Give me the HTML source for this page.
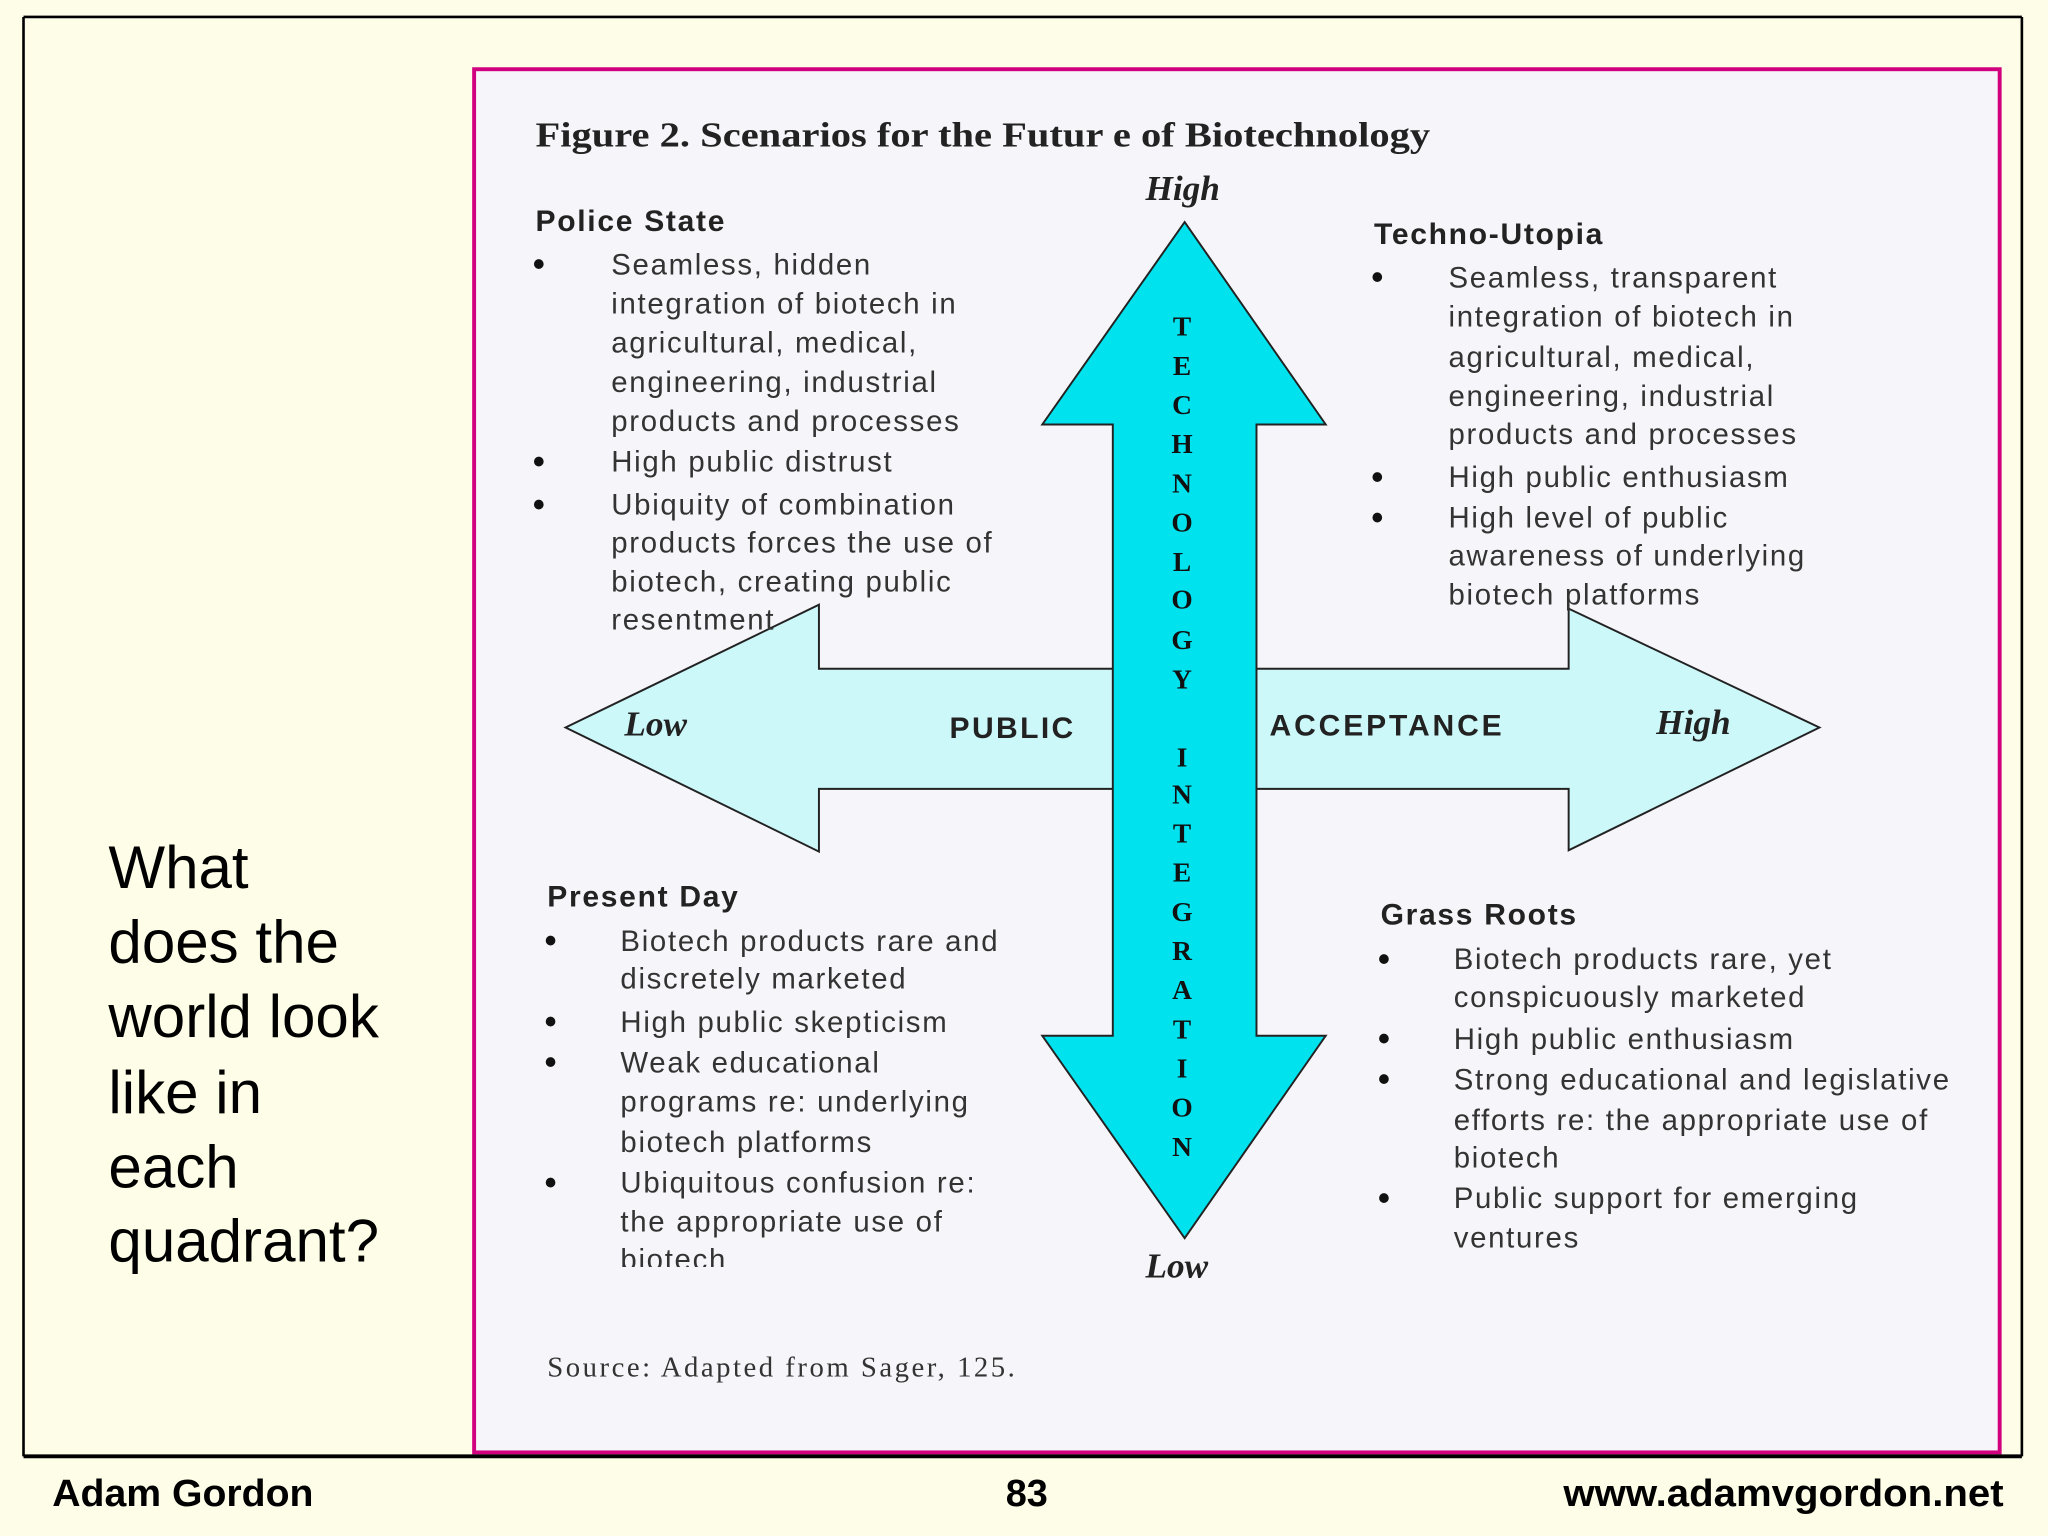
<!DOCTYPE html>
<html><head><meta charset="utf-8"><style>
html,body{margin:0;padding:0;background:#fefee8;}
svg{display:block}
.b{font-family:"Liberation Sans",sans-serif;font-size:22.5px;fill:#333;letter-spacing:1.3px}
.d{font-family:"Liberation Sans",sans-serif;font-size:26px;font-weight:bold;fill:#111}
.h{font-family:"Liberation Sans",sans-serif;font-size:23px;font-weight:bold;fill:#222;letter-spacing:1.3px}
.s{font-family:"Liberation Serif",serif;font-weight:bold;fill:#222}
.v{font-family:"Liberation Serif",serif;font-weight:bold;font-size:21px;fill:#111;text-anchor:middle}
.f{font-family:"Liberation Sans",sans-serif;font-weight:bold;font-size:29px;fill:#000}
</style></head><body>
<svg width="2048" height="1536" viewBox="0 0 1568 1176" xmlns="http://www.w3.org/2000/svg">
<rect width="1568" height="1176" fill="#fefee8"/>
<line x1="18" y1="13" x2="1548" y2="13" stroke="#000" stroke-width="2"/>
<line x1="18" y1="13" x2="18" y2="1115" stroke="#000" stroke-width="2"/>
<line x1="1548" y1="13" x2="1548" y2="1115" stroke="#000" stroke-width="2"/>
<rect x="363" y="53" width="1168" height="1059" fill="#f6f6fa" stroke="#d0007f" stroke-width="3"/>
<line x1="18" y1="1115" x2="1548" y2="1115" stroke="#000" stroke-width="3"/>

<g font-family="Liberation Sans,sans-serif" font-size="46" fill="#000">
<text x="83" y="680">What</text><text x="83" y="737">does the</text><text x="83" y="794">world look</text><text x="83" y="852">like in</text><text x="83" y="909">each</text><text x="83" y="966">quadrant?</text>
</g>
<text class="f" x="40" y="1153" textLength="200" lengthAdjust="spacingAndGlyphs">Adam Gordon</text>
<text class="f" x="770" y="1153">83</text>
<text class="f" x="1197" y="1153" textLength="337" lengthAdjust="spacingAndGlyphs">www.adamvgordon.net</text>

<polygon points="433,557 627,463 627,512 1201,512 1201,466 1393,557 1201,651 1201,604 627,604 627,652" fill="#ccf8fa" stroke="#222" stroke-width="1.5"/>
<polygon points="907,170 1015,325 962,325 962,793 1015,793 907,948 798,793 852,793 852,325 798,325" fill="#00e3ef" stroke="#222" stroke-width="1.5"/>

<text class="s" x="410" y="112" font-size="27" textLength="685" lengthAdjust="spacingAndGlyphs">Figure 2. Scenarios for the Futur e of Biotechnology</text>
<text class="s" x="877" y="153" font-size="27" font-style="italic">High</text>
<text class="s" x="877" y="978" font-size="27" font-style="italic">Low</text>
<text class="s" x="478" y="563" font-size="27" font-style="italic">Low</text>
<text class="s" x="1268" y="562" font-size="27" font-style="italic">High</text>
<text class="h" x="727" y="565" textLength="96">PUBLIC</text>
<text class="h" x="972" y="563" textLength="179">ACCEPTANCE</text>

<g class="v">
<text x="905" y="257">T</text><text x="905" y="287">E</text><text x="905" y="317">C</text><text x="905" y="347">H</text><text x="905" y="377">N</text><text x="905" y="407">O</text><text x="905" y="437">L</text><text x="905" y="466">O</text><text x="905" y="497">G</text><text x="905" y="527">Y</text>
<text x="905" y="587">I</text><text x="905" y="615">N</text><text x="905" y="645">T</text><text x="905" y="675">E</text><text x="905" y="705">G</text><text x="905" y="735">R</text><text x="905" y="765">A</text><text x="905" y="795">T</text><text x="905" y="825">I</text><text x="905" y="855">O</text><text x="905" y="885">N</text>
</g>

<text class="h" x="410" y="177">Police State</text>
<g class="d">
<text x="408" y="211">•</text><text x="408" y="362">•</text><text x="408" y="395">•</text>
<text x="1050" y="221">•</text><text x="1050" y="374">•</text><text x="1050" y="405">•</text>
<text x="417" y="729">•</text><text x="417" y="791">•</text><text x="417" y="822">•</text><text x="417" y="914">•</text>
<text x="1055" y="743">•</text><text x="1055" y="804">•</text><text x="1055" y="835">•</text><text x="1055" y="926">•</text>
</g>
<g class="b">
<text x="468" y="210">Seamless, hidden</text><text x="468" y="240">integration of biotech in</text><text x="468" y="270">agricultural, medical,</text><text x="468" y="300">engineering, industrial</text><text x="468" y="330">products and processes</text><text x="468" y="361">High public distrust</text><text x="468" y="394">Ubiquity of combination</text><text x="468" y="423">products forces the use of</text><text x="468" y="453">biotech, creating public</text><text x="468" y="482">resentment</text>
</g>

<text class="h" x="1052" y="187">Techno-Utopia</text>
<g class="b">
<text x="1109" y="220">Seamless, transparent</text><text x="1109" y="250">integration of biotech in</text><text x="1109" y="281">agricultural, medical,</text><text x="1109" y="311">engineering, industrial</text><text x="1109" y="340">products and processes</text><text x="1109" y="373">High public enthusiasm</text><text x="1109" y="404">High level of public</text><text x="1109" y="433">awareness of underlying</text><text x="1109" y="463">biotech platforms</text>
</g>

<text class="h" x="419" y="694">Present Day</text>
<g class="b">
<text x="475" y="728">Biotech products rare and</text><text x="475" y="757">discretely marketed</text><text x="475" y="790">High public skepticism</text><text x="475" y="821">Weak educational</text><text x="475" y="851">programs re: underlying</text><text x="475" y="882">biotech platforms</text><text x="475" y="913">Ubiquitous confusion re:</text><text x="475" y="943">the appropriate use of</text>
</g>
<clipPath id="c"><rect x="470" y="950" width="200" height="20"/></clipPath>
<text class="b" x="475" y="972" clip-path="url(#c)">biotech</text>

<text class="h" x="1057" y="708">Grass Roots</text>
<g class="b">
<text x="1113" y="742">Biotech products rare, yet</text><text x="1113" y="771">conspicuously marketed</text><text x="1113" y="803">High public enthusiasm</text><text x="1113" y="834">Strong educational and legislative</text><text x="1113" y="865">efforts re: the appropriate use of</text><text x="1113" y="894">biotech</text><text x="1113" y="925">Public support for emerging</text><text x="1113" y="955">ventures</text>
</g>

<text x="419" y="1054" font-family="Liberation Serif,serif" font-size="22" fill="#333" textLength="358">Source: Adapted from Sager, 125.</text>
</svg>
</body></html>
